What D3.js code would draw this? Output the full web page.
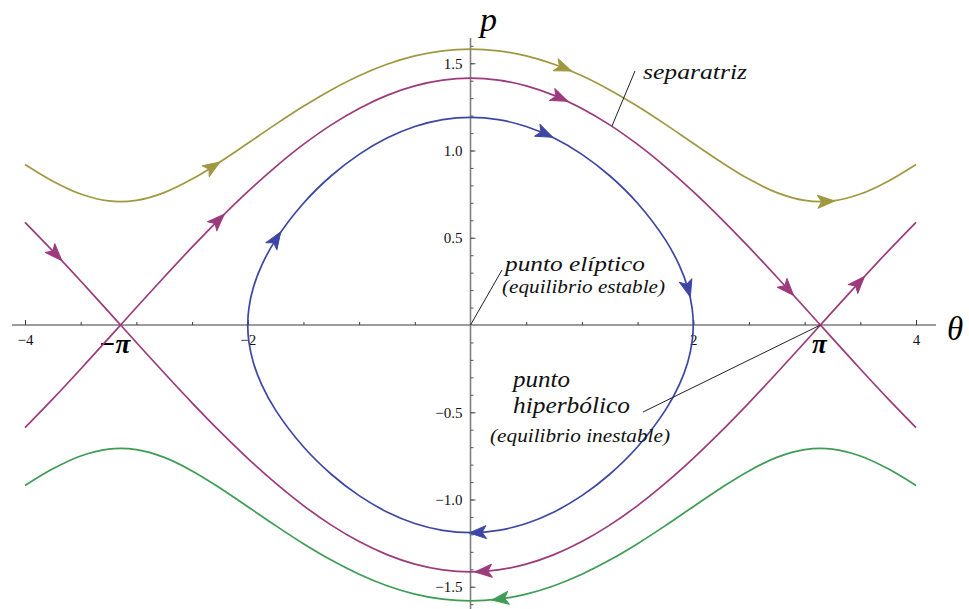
<!DOCTYPE html>
<html><head><meta charset="utf-8">
<script src="https://cdn.jsdelivr.net/npm/d3@7"></script>
<style>
html,body{margin:0;padding:0;background:#fff;}
svg{display:block;}
text{font-family:"Liberation Serif","Times New Roman",serif;}
</style></head><body>
<svg id="chart" width="969" height="609"></svg>
<script>
// ---------- data ----------
const thetaGrid = [-4,-3.75,-3.5,-3.25,-3,-2.75,-2.5,-2.25,-2,-1.75,-1.5,-1.25,-1,-0.75,-0.5,-0.25,0,0.25,0.5,0.75,1,1.25,1.5,1.75,2,2.25,2.5,2.75,3,3.25,3.5,3.75,4];
const rotationTopP = [0.9200,0.8243,0.7507,0.7112,0.7142,0.7587,0.8360,0.9337,1.0411,1.1497,1.2533,1.3473,1.4284,1.4939,1.5419,1.5713,1.5811,1.5713,1.5419,1.4939,1.4284,1.3473,1.2533,1.1497,1.0411,0.9337,0.8360,0.7587,0.7142,0.7112,0.7507,0.8243,0.9200];
const rotationBottomP = [-0.9200,-0.8243,-0.7507,-0.7112,-0.7142,-0.7587,-0.8360,-0.9337,-1.0411,-1.1497,-1.2533,-1.3473,-1.4284,-1.4939,-1.5419,-1.5713,-1.5811,-1.5713,-1.5419,-1.4939,-1.4284,-1.3473,-1.2533,-1.1497,-1.0411,-0.9337,-0.8360,-0.7587,-0.7142,-0.7112,-0.7507,-0.8243,-0.9200];

const sepTheta = [-4,-3.75,-3.5,-3.25,-3.1416,-3,-2.75,-2.5,-2.25,-2,-1.75,-1.5,-1.25,-1,-0.75,-0.5,-0.25,0,0.25,0.5,0.75,1,1.25,1.5,1.75,2,2.25,2.5,2.75,3,3.1416,3.25,3.5,3.75,4];
const sepAP = [-0.5885,-0.4236,-0.2521,-0.0766,0,0.1000,0.2751,0.4459,0.6098,0.7641,0.9065,1.0348,1.1469,1.2411,1.3159,1.3703,1.4032,1.4142,1.4032,1.3703,1.3159,1.2411,1.1469,1.0348,0.9065,0.7641,0.6098,0.4459,0.2751,0.1000,0,-0.0766,-0.2521,-0.4236,-0.5885];
const sepBP = [0.5885,0.4236,0.2521,0.0766,0,-0.1000,-0.2751,-0.4459,-0.6098,-0.7641,-0.9065,-1.0348,-1.1469,-1.2411,-1.3159,-1.3703,-1.4032,-1.4142,-1.4032,-1.3703,-1.3159,-1.2411,-1.1469,-1.0348,-0.9065,-0.7641,-0.6098,-0.4459,-0.2751,-0.1000,0,0.0766,0.2521,0.4236,0.5885];

const librationTheta = [-2,-1.99,-1.95,-1.875,-1.75,-1.5,-1.25,-1,-0.75,-0.5,-0.25,0,0.25,0.5,0.75,1,1.25,1.5,1.75,1.875,1.95,1.99,2,1.99,1.95,1.875,1.75,1.5,1.25,1,0.75,0.5,0.25,0,-0.25,-0.5,-0.75,-1,-1.25,-1.5,-1.75,-1.875,-1.95,-1.99];
const librationP = [0,0.0955,0.2144,0.3415,0.4878,0.6978,0.8553,0.9780,1.0714,1.1374,1.1769,1.1900,1.1769,1.1374,1.0714,0.9780,0.8553,0.6978,0.4878,0.3415,0.2144,0.0955,0,-0.0955,-0.2144,-0.3415,-0.4878,-0.6978,-0.8553,-0.9780,-1.0714,-1.1374,-1.1769,-1.1900,-1.1769,-1.1374,-1.0714,-0.9780,-0.8553,-0.6978,-0.4878,-0.3415,-0.2144,-0.0955];

// arrow locations [theta, p]
const rotationTopArrows = [[-2.32,0.91],[0.83,1.47],[3.19,0.71]];
const rotationBottomArrows = [[0.27,-1.57]];
const sepAArrows = [[-2.27,0.60],[0.80,1.30],[2.85,0.21]];
const sepBArrows = [[-3.72,0.41],[3.48,0.24],[0.12,-1.41]];
const librationArrows = [[0.67,1.10],[1.95,0.21],[0.07,-1.19],[-1.75,0.49]];

const xMinorTicks = [-4,-3.5,-3,-2.5,-2,-1.5,-1,-0.5,0.5,1,1.5,2,2.5,3,3.5,4];
const xLabelTicks = [-4,-2,2,4];
const piTicks = [-3.14159, 3.14159];
const piLabels = ["\u2212\u03C0", "\u03C0"];
const yMinorTicks = [-1.6,-1.5,-1.4,-1.3,-1.2,-1.1,-1,-0.9,-0.8,-0.7,-0.6,-0.5,-0.4,-0.3,-0.2,-0.1,0.1,0.2,0.3,0.4,0.5,0.6,0.7,0.8,0.9,1,1.1,1.2,1.3,1.4,1.5,1.6];
const yLabelTicks = [-1.5,-1.0,-0.5,0.5,1.0,1.5];

// ---------- layout ----------
const svg = d3.select("#chart");
const x = d3.scaleLinear().domain([-4,4]).range([25,916]);
const y = d3.scaleLinear().domain([-1.5,1.5]).range([586.75,63.25]);
const fmt = d => (d<0?"\u2212":"") + (Number.isInteger(d) && Math.abs(d)>=2 ? Math.abs(d) : Math.abs(d).toFixed(1));

const colors = {top:"#a09840", sep:"#9c3a7c", lib:"#3d46a4", bottom:"#3e9c55"};

// axes lines
svg.append("line").attr("x1",12).attr("x2",936).attr("y1",y(0)).attr("y2",y(0))
  .attr("stroke","#3a3a3a").attr("stroke-width",1.1);
svg.append("line").attr("x1",x(0)).attr("x2",x(0)).attr("y1",38).attr("y2",609)
  .attr("stroke","#808080").attr("stroke-width",1.6);

// x axis ticks
const gx = svg.append("g").attr("transform",`translate(0,${y(0)})`);
gx.call(d3.axisBottom(x).tickValues(xMinorTicks).tickSize(-3).tickFormat(""));
const gx2 = svg.append("g").attr("transform",`translate(0,${y(0)})`);
gx2.call(d3.axisBottom(x).tickValues(xLabelTicks).tickSize(-5).tickPadding(9).tickFormat(fmt));
[gx,gx2].forEach(g=>{ g.select(".domain").remove(); g.selectAll("line").attr("stroke","#3a3a3a");
  g.selectAll("text").attr("font-size",15).attr("font-family","Liberation Serif").attr("fill","#111"); });

// y axis ticks
const gy = svg.append("g").attr("transform",`translate(${x(0)},0)`);
gy.call(d3.axisLeft(y).tickValues(yMinorTicks).tickSize(-3).tickFormat(""));
const gy2 = svg.append("g").attr("transform",`translate(${x(0)},0)`);
gy2.call(d3.axisLeft(y).tickValues(yLabelTicks).tickSize(-5).tickPadding(8).tickFormat(fmt));
[gy,gy2].forEach(g=>{ g.select(".domain").remove(); g.selectAll("line").attr("stroke","#555");
  g.selectAll("text").attr("font-size",15).attr("font-family","Liberation Serif").attr("fill","#111"); });

// pi labels
svg.selectAll("text.pi").data(piTicks).join("text").attr("class","pi")
  .attr("x",(d,i)=>x(d)+(i===0?-6:-1)).attr("y",y(0)+28)
  .attr("text-anchor","middle").attr("font-size",27).attr("font-style","italic").attr("font-weight","bold")
  .text((d,i)=>piLabels[i]);

// axis names
svg.append("text").attr("x",480).attr("y",31).attr("font-size",34).attr("font-style","italic").text("p");
svg.append("text").attr("x",947).attr("y",340).attr("font-size",33).attr("font-style","italic").text("\u03B8");

// ---------- curves ----------
const lineGen = d3.line().x(d=>x(d[0])).y(d=>y(d[1])).curve(d3.curveCatmullRom.alpha(0.5));
const closedGen = d3.line().x(d=>x(d[0])).y(d=>y(d[1])).curve(d3.curveCatmullRomClosed.alpha(0.5));

const curves = [
  {pts:d3.zip(thetaGrid,rotationTopP), gen:lineGen, color:colors.top, arrows:rotationTopArrows},
  {pts:d3.zip(sepTheta,sepAP), gen:lineGen, color:colors.sep, arrows:sepAArrows},
  {pts:d3.zip(sepTheta,sepBP), gen:lineGen, color:colors.sep, arrows:sepBArrows},
  {pts:d3.zip(librationTheta,librationP), gen:closedGen, color:colors.lib, arrows:librationArrows},
  {pts:d3.zip(thetaGrid,rotationBottomP), gen:lineGen, color:colors.bottom, arrows:rotationBottomArrows}
];

const arrowShape = "M9,0 L-8,-6.5 L-4,0 L-8,6.5 Z";

curves.forEach(c=>{
  const path = svg.append("path").attr("d",c.gen(c.pts)).attr("fill","none")
    .attr("stroke",c.color).attr("stroke-width",1.7).attr("stroke-linejoin","round");
  const node = path.node();
  const total = node.getTotalLength();
  c.arrows.forEach(a=>{
    const tx = x(a[0]), ty = y(a[1]);
    let best = 0, bd = Infinity;
    for(let l=0;l<=total;l+=0.5){
      const pt = node.getPointAtLength(l);
      const dd = (pt.x-tx)**2+(pt.y-ty)**2;
      if(dd<bd){bd=dd;best=l;}
    }
    const p0 = node.getPointAtLength(Math.max(0,best-2));
    const p1 = node.getPointAtLength(Math.min(total,best+2));
    const pc = node.getPointAtLength(best);
    let dx = p1.x-p0.x, dy = p1.y-p0.y;
    // motion: theta increases where p>0
    if ((a[1]>0 && dx<0) || (a[1]<0 && dx>0)) {dx=-dx;dy=-dy;}
    const ang = Math.atan2(dy,dx)*180/Math.PI;
    svg.append("path").attr("d",arrowShape)
      .attr("transform",`translate(${pc.x},${pc.y}) rotate(${ang})`)
      .attr("fill",c.color).attr("stroke",c.color).attr("stroke-width",1).attr("stroke-linejoin","round");
  });
});

// ---------- annotations ----------
const ann = svg.append("g").attr("font-style","italic").attr("fill","#111");
svg.append("line").attr("x1",635).attr("y1",71).attr("x2",x(1.27)).attr("y2",y(1.14)).attr("stroke","#222").attr("stroke-width",1);
svg.append("line").attr("x1",502).attr("y1",270).attr("x2",x(0)).attr("y2",y(0)).attr("stroke","#222").attr("stroke-width",1);
svg.append("line").attr("x1",643).attr("y1",412).attr("x2",x(3.14159)).attr("y2",y(0)).attr("stroke","#222").attr("stroke-width",1);

const notes = [
  {t:"separatriz", x:643, y:79, s:22, w:104},
  {t:"punto elíptico", x:505, y:271, s:22, w:140},
  {t:"(equilibrio estable)", x:502, y:293, s:18, w:163},
  {t:"punto", x:513, y:387, s:22.5, w:57},
  {t:"hiperbólico", x:513, y:413, s:22.5, w:117},
  {t:"(equilibrio inestable)", x:490, y:442, s:18, w:180}
];
ann.selectAll("text").data(notes).join("text")
  .attr("x",d=>d.x).attr("y",d=>d.y).attr("font-size",d=>d.s)
  .attr("textLength",d=>d.w).attr("lengthAdjust","spacingAndGlyphs").text(d=>d.t);
</script>
</body></html>
